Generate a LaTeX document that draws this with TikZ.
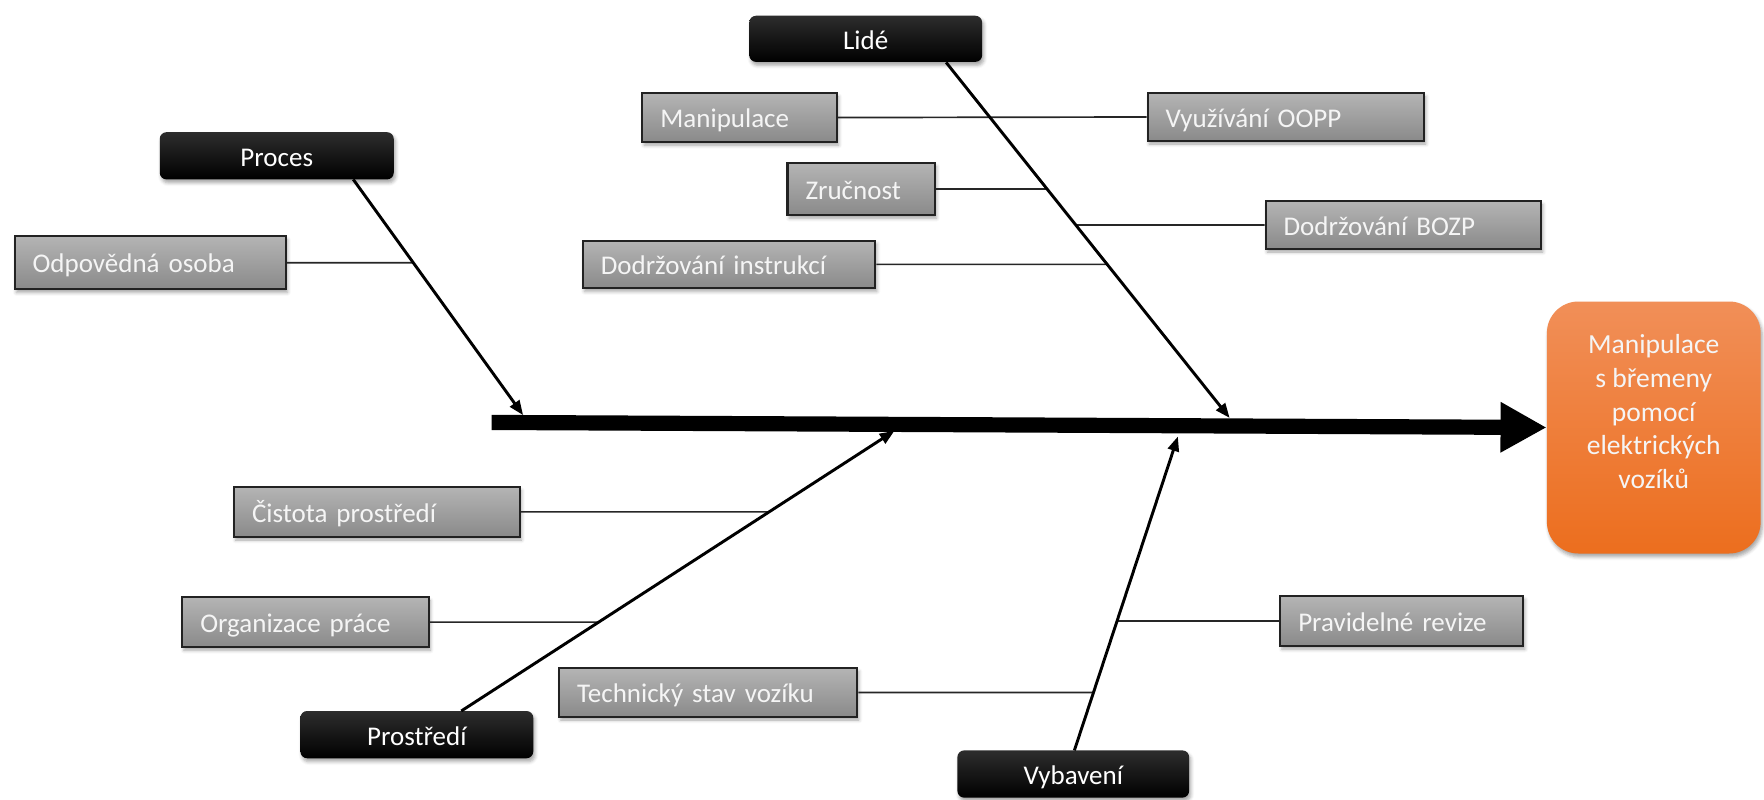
\documentclass[tikz,border=0pt]{standalone}
\usepackage{fontspec}
\setmainfont{Carlito}
\usetikzlibrary{arrows.meta,shadows.blur,calc,intersections}
\definecolor{gtop}{RGB}{180,180,180}
\definecolor{gbot}{RGB}{138,138,138}
\definecolor{gline}{RGB}{34,34,34}
\definecolor{htop}{RGB}{45,45,45}
\definecolor{otop}{RGB}{241,143,88}
\definecolor{obot}{RGB}{236,110,30}
\definecolor{txtw}{RGB}{245,245,245}
\tikzset{
  bshadow/.style={blur shadow={shadow xshift=1.5pt, shadow yshift=-3pt, shadow blur radius=3pt, shadow opacity=35}},
  gbox/.style={draw=gline, line width=1.8pt, top color=gtop, bottom color=gbot,
    text=txtw, font=\fontsize{24}{29}\selectfont, inner xsep=16pt, inner ysep=0pt,
    text height=21pt, text depth=3pt, align=left, bshadow},
  hbox/.style={rounded corners=6pt, top color=htop, bottom color=black, text=white,
    font=\fontsize{24}{29}\selectfont, inner sep=0pt, text height=19pt, text depth=0pt, bshadow},
  bone/.style={line width=2.6pt, -{Triangle[length=13pt,width=10pt]}},
  twig/.style={line width=1.5pt, draw=black!85},
  spine/.style={line width=13.5pt, -{Triangle[length=41pt,width=42pt]}},
  effbox/.style={rounded corners=28pt, top color=otop, bottom color=obot, bshadow},
}
\begin{document}
\begin{tikzpicture}[x=1pt,y=-1pt]
\useasboundingbox (0,0) rectangle (1568,711.1);

% effect box
\node[effbox, minimum width=190pt, minimum height=224pt] (eff) at (1470,380) {};
\node[text=txtw, font=\fontsize{24.5}{30}\selectfont, align=center] (efft) at (1470,366)
  {Manipulace\\s břemeny\\pomocí\\elektrických\\vozíků};

% spine
\coordinate (sL) at (437,375.5);
\draw[spine] (sL) -- (eff.west);

% header boxes
\node[hbox, minimum width=207pt, minimum height=41pt] (lide) at (769.5,34.5) {Lidé};
\node[hbox, minimum width=208pt, minimum height=42pt] (proc) at (246,138.5) {Proces};
\node[hbox, minimum width=207pt, minimum height=42pt] (prost) at (370.5,653) {Prostředí};
\node[hbox, minimum width=206pt, minimum height=42pt] (vyb) at (954,688) {Vybavení};

% bone anchor points
\coordinate (lS) at (841,55.5);   \coordinate (lT) at (1093,371.5);
\coordinate (pS) at (314,159.5);  \coordinate (pT) at (465,369);
\coordinate (eS) at (410,632);    \coordinate (eT) at (795,383);
\coordinate (vS) at (955,667);    \coordinate (vT) at (1047,388);

\path[name path=lideb] (lS) -- (lT);
\path[name path=procb] (pS) -- (pT);
\path[name path=prostb] (eS) -- (eT);
\path[name path=vybb] (vS) -- (vT);

% cause boxes
\node[gbox, text width=141pt, minimum height=43pt] (man) at (657.5,104.5) {Manipulace};
\node[gbox, text width=214pt, minimum height=42pt] (oopp) at (1143,104) {Využívání OOPP};
\node[gbox, text width=99pt, minimum height=46pt] (zruc) at (765.5,168) {Zručnost};
\node[gbox, text width=213pt, minimum height=42pt] (bozp) at (1247.5,200) {Dodržování BOZP};
\node[gbox, text width=228pt, minimum height=42pt] (instr) at (648,235) {Dodržování instrukcí};
\node[gbox, text width=209pt, minimum height=47pt] (odp) at (133.5,233.5) {Odpovědná osoba};
\node[gbox, text width=222pt, minimum height=44pt] (cist) at (335,455) {Čistota prostředí};
\node[gbox, text width=187pt, minimum height=44pt] (org) at (271.5,553) {Organizace práce};
\node[gbox, text width=184pt, minimum height=44pt] (rev) at (1246,552) {Pravidelné revize};
\node[gbox, text width=233pt, minimum height=43pt] (tech) at (629.5,615.5) {Technický stav vozíku};

% helper paths
\path[name path=hzruc] (zruc.east) -- ++(300,0);
\path[name path=hbozp] (bozp.west) -- ++(-400,0);
\path[name path=hinstr] (instr.east) -- ++(400,0);
\path[name path=hodp] (odp.east) -- ++(300,0);
\path[name path=hcist] (cist.east) -- ++(400,0);
\path[name path=horg] (org.east) -- ++(400,0);
\path[name path=hrev] (rev.west) -- ++(-400,0);
\path[name path=htech] (tech.east) -- ++(400,0);

% twigs
\draw[twig] (man.east) -- (oopp.west);
\draw[twig, name intersections={of=lideb and hzruc}] (zruc.east) -- (intersection-1);
\draw[twig, name intersections={of=lideb and hbozp}] (bozp.west) -- (intersection-1);
\draw[twig, name intersections={of=lideb and hinstr}] (instr.east) -- (intersection-1);
\draw[twig, name intersections={of=procb and hodp}] (odp.east) -- (intersection-1);
\draw[twig, name intersections={of=prostb and hcist}] (cist.east) -- (intersection-1);
\draw[twig, name intersections={of=prostb and horg}] (org.east) -- (intersection-1);
\draw[twig, name intersections={of=vybb and hrev}] (rev.west) -- (intersection-1);
\draw[twig, name intersections={of=vybb and htech}] (tech.east) -- (intersection-1);

% bones
\draw[bone] (lS) -- (lT);
\draw[bone] (pS) -- (pT);
\draw[bone] (eS) -- (eT);
\draw[bone] (vS) -- (vT);
\end{tikzpicture}
\end{document}
